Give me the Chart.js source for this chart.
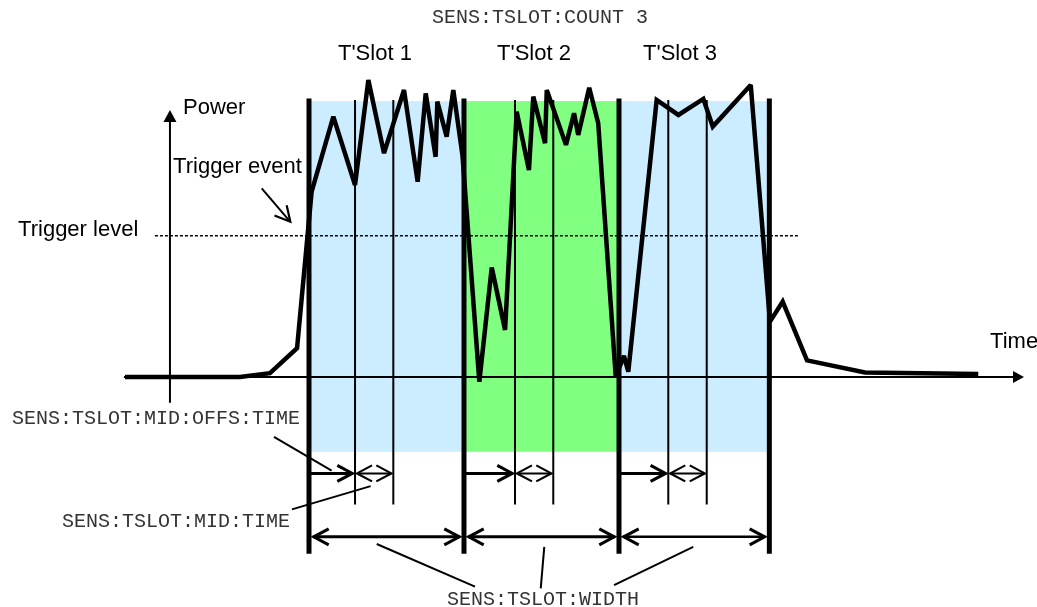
<!DOCTYPE html>
<html><head><meta charset="utf-8">
<style>html,body{margin:0;padding:0;background:#fff;}#wrap{width:1037px;height:607px;position:relative;}</style>
<script src="https://cdn.jsdelivr.net/npm/chart.js@4.4.1/dist/chart.umd.min.js"></script>
</head><body><div id="wrap"><canvas id="c"></canvas></div>
<script>
// ---- data (time in arbitrary units: one slot = 100; power in % of slot top) ----
const traceTime  = [-118.7,-44.5,-25.2,-7.7,1.7,15.7,29.7,38.3,48.4,61.3,70.1,75.3,81.7,82.8,88.8,93.1,99.0,109.9,117.9,126.5,134.0,141.9,144.7,152.3,153.4,165.8,171.0,173.7,180.8,186.6,197.9,203.2,206.0,224.3,238.3,254.4,260.5,285.0,297.4,305.6,321.3,358.7,431.8];
const tracePower = [0,0,1.4,10.4,66.9,94.0,69.3,107.2,80.8,103.6,70.5,102.4,79.5,99.4,86.8,103.6,80.1,-1.7,39.5,17.0,95.8,74.7,101.2,84.4,103.6,83.8,95.2,87.4,104.4,91.6,0.1,7.6,1.9,100,94.6,100.4,90.4,105.4,20.0,27.2,6.0,1.6,1.1];
const slotStart  = [0,100,200];
const slotWidth  = [100,100,97];
const slotLabels = ["T'Slot 1","T'Slot 2","T'Slot 3"];
const midOffset  = [29.7,32.9,31.8];
const midTime    = [24.7,24.7,24.8];
const triggerLevel = 51;

const slotColors = ['#ccecff','#80ff80','#ccecff'];
const SANS = '22px "Liberation Sans", Arial, sans-serif';
const MONO = '20px "Liberation Mono", "Courier New", monospace';

// annotation layout (data coordinates)
const texts = [
  {s:'SENS:TSLOT:COUNT 3', t:79.4, p:129.6, f:MONO, c:'#333'},
  {s:slotLabels[0], t:18.7, p:116.6, f:SANS, c:'#000'},
  {s:slotLabels[1], t:121.3, p:116.6, f:SANS, c:'#000'},
  {s:slotLabels[2], t:215.5, p:116.6, f:SANS, c:'#000'},
  {s:'Power', t:-81.3, p:97.1, f:SANS, c:'#000'},
  {s:'Trigger event', t:-87.7, p:75.8, f:SANS, c:'#000'},
  {s:'Trigger level', t:-187.7, p:53.1, f:SANS, c:'#000'},
  {s:'Time', t:439.4, p:12.6, f:SANS, c:'#000'},
  {s:'SENS:TSLOT:MID:OFFS:TIME', t:-191.6, p:-15.2, f:MONO, c:'#333'},
  {s:'SENS:TSLOT:MID:TIME', t:-159.4, p:-52.3, f:MONO, c:'#333'},
  {s:'SENS:TSLOT:WIDTH', t:89.0, p:-80.5, f:MONO, c:'#333'}
];
const leaders = [
  [-22.6,-21.6,14.6,-33.8],
  [-11.0,-47.8,39.8,-39.4],
  [43.7,-60.3,107.1,-75.7],
  [151.8,-61.3,149.5,-76.3],
  [247.9,-61.3,196.8,-75.1]
];

const datasets = [];
datasets.push({label:'Power', data: traceTime.map((t,i)=>({x:t,y:tracePower[i]})),
  borderColor:'#000', borderWidth:4.5, pointRadius:0, showLine:true, tension:0, borderJoinStyle:'miter', order:0});
const bounds = slotStart.concat([slotStart[2]+slotWidth[2]]);
bounds.forEach(b=>datasets.push({data:[{x:b,y:100.5},{x:b,y:-63.8}], borderColor:'#000', borderWidth:5, pointRadius:0, showLine:true, borderCapStyle:'butt', order:1}));
slotStart.forEach((s,i)=>{
  const a = s+midOffset[i], b = a+midTime[i];
  [a,b].forEach(v=>datasets.push({data:[{x:v,y:100},{x:v,y:-46}], borderColor:'#000', borderWidth:2, pointRadius:0, showLine:true, order:2}));
});

// open chevron arrow head
function head(ctx, tx, ty, dx, dy, w){
  const d = Math.hypot(dx,dy), ux = dx/d, uy = dy/d;
  const px = -uy, py = ux;
  const back = w*0.9;
  const ax = tx - ux*back, ay = ty - uy*back;
  const L = 15, W = 8;
  ctx.save();
  ctx.lineWidth = w; ctx.lineJoin = 'miter'; ctx.lineCap='butt';
  ctx.beginPath();
  ctx.moveTo(ax - ux*L + px*W, ay - uy*L + py*W);
  ctx.lineTo(ax, ay);
  ctx.lineTo(ax - ux*L - px*W, ay - uy*L - py*W);
  ctx.stroke();
  ctx.restore();
}
function line(ctx,x1,y1,x2,y2){ctx.beginPath();ctx.moveTo(x1,y1);ctx.lineTo(x2,y2);ctx.stroke();}

const deco = {
  id:'deco',
  beforeDatasetsDraw(chart){
    const {ctx, scales:{x,y}} = chart;
    ctx.save();
    slotStart.forEach((s,i)=>{
      const x0=x.getPixelForValue(s), x1=x.getPixelForValue(s+slotWidth[i]);
      const y0=y.getPixelForValue(99.6), y1=y.getPixelForValue(-27);
      ctx.fillStyle=slotColors[i]; ctx.fillRect(x0,y0,x1-x0,y1-y0);
    });
    ctx.strokeStyle='#000'; ctx.lineWidth=1.5; ctx.setLineDash([3,2]);
    line(ctx,x.getPixelForValue(-99.4),y.getPixelForValue(triggerLevel),x.getPixelForValue(316),y.getPixelForValue(triggerLevel));
    ctx.setLineDash([]);
    ctx.lineWidth=2;
    const y0=y.getPixelForValue(0), xa=x.getPixelForValue(-89.7);
    const xe=x.getPixelForValue(461.3);
    line(ctx,x.getPixelForValue(-119.4),y0,xe-8,y0);
    ctx.fillStyle='#000';
    ctx.beginPath();ctx.moveTo(xe,y0);ctx.lineTo(xe-11,y0-6);ctx.lineTo(xe-11,y0+6);ctx.closePath();ctx.fill();
    const yt=y.getPixelForValue(96.4);
    line(ctx,xa,y.getPixelForValue(-9.3),xa,yt+8);
    ctx.beginPath();ctx.moveTo(xa,yt);ctx.lineTo(xa-6.5,yt+12);ctx.lineTo(xa+6.5,yt+12);ctx.closePath();ctx.fill();
    ctx.restore();
  },
  beforeDatasetDraw(chart, args){ chart.ctx.miterLimit = args.index===0 ? 2.2 : 10; },
  afterDatasetDraw(chart){ chart.ctx.miterLimit = 10; },
  afterDatasetsDraw(chart){
    const {ctx, scales:{x,y}} = chart;
    ctx.save();
    ctx.strokeStyle='#000'; ctx.fillStyle='#000'; ctx.lineCap='butt';
    const yo=y.getPixelForValue(-34.8), yw=y.getPixelForValue(-57.7);
    slotStart.forEach((s,i)=>{
      const xs=x.getPixelForValue(s)+2, m1=x.getPixelForValue(s+midOffset[i]), m2=x.getPixelForValue(s+midOffset[i]+midTime[i]);
      const xe=x.getPixelForValue(s+slotWidth[i])-2;
      ctx.lineWidth=3; line(ctx,xs,yo,m1-2,yo); head(ctx,m1,yo,1,0,3);
      ctx.lineWidth=2; line(ctx,m1+2,yo,m2-2,yo); head(ctx,m1,yo,-1,0,2.2); head(ctx,m2,yo,1,0,2.2);
      const lw = i===2?2.5:3;
      ctx.lineWidth = lw; line(ctx,xs+2,yw,xe-2,yw); head(ctx,xs,yw,-1,0,3); head(ctx,xe,yw,1,0,3);
    });
    ctx.lineWidth=2;
    leaders.forEach(l=>line(ctx,x.getPixelForValue(l[0]),y.getPixelForValue(l[1]),x.getPixelForValue(l[2]),y.getPixelForValue(l[3])));
    const ax1=x.getPixelForValue(-30.5), ay1=y.getPixelForValue(68.1), ax2=x.getPixelForValue(-11.2), ay2=y.getPixelForValue(55.5);
    line(ctx,ax1,ay1,ax2-1.5,ay2-1.7); head(ctx,ax2,ay2,ax2-ax1,ay2-ay1,2.2);
    ctx.textBaseline='middle'; ctx.textAlign='left';
    texts.forEach(o=>{ctx.font=o.f; ctx.fillStyle=o.c; ctx.fillText(o.s,x.getPixelForValue(o.t),y.getPixelForValue(o.p));});
    ctx.restore();
  }
};

new Chart(document.getElementById('c'), {
  type:'scatter',
  data:{datasets},
  options:{
    responsive:true, maintainAspectRatio:false, animation:false, events:[],
    layout:{padding:0},
    plugins:{legend:{display:false}, tooltip:{enabled:false}},
    scales:{
      x:{type:'linear', min:-199.35, max:469.68, display:false},
      y:{type:'linear', min:-83.03, max:136.1, display:false}
    }
  },
  plugins:[deco]
});
</script></body></html>
